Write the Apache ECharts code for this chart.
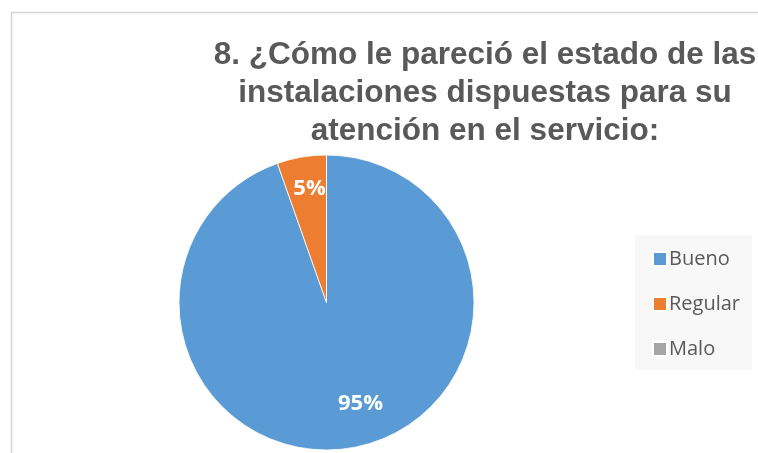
<!DOCTYPE html>
<html><head><meta charset="utf-8">
<script src="https://cdn.jsdelivr.net/npm/echarts@6/dist/echarts.min.js"></script>
<style>html,body{margin:0;padding:0;background:#fff}#c{width:758px;height:453px}</style>
</head><body><div id="c"></div>
<script>
const titleText = "8. ¿Cómo le pareció el estado de las\ninstalaciones dispuestas para su\natención en el servicio:";
const categories = ["Bueno", "Regular", "Malo"];
const values = [94.6, 5.4, 0];
const colors = ["#5b9bd5", "#ed7d31", "#a5a5a5"];
const labelShift = [[21, 26], [-4, -38], [0, 0]];

const chart = echarts.init(document.getElementById('c'), null, {renderer: 'canvas'});
chart.setOption({
  animation: false,
  backgroundColor: '#fff',
  graphic: [
    {type: 'rect', left: 9, top: 10, shape: {width: 800, height: 500},
     style: {fill: 'none', stroke: '#d4d4d4', lineWidth: 1.5}, silent: true},
    {type: 'rect', left: 635, top: 235, shape: {width: 117, height: 135},
     style: {fill: '#f8f8f8'}, silent: true, z: -1}
  ],
  title: {
    text: titleText,
    left: 480, top: 31, textAlign: 'center',
    textStyle: {fontFamily: 'Liberation Sans, Arial', fontWeight: 'bold', fontSize: 31.5,
      color: '#595959', lineHeight: 38}
  },
  legend: {
    orient: 'vertical', left: 647, top: 244,
    itemWidth: 14, itemHeight: 14, itemGap: 25,
    icon: 'rect',
    data: categories,
    textStyle: {fontFamily: 'Open Sans', fontSize: 20, color: '#595959', padding: [0,0,0,-3]}
  },
  series: [{
    type: 'pie',
    center: [326.5, 302.5], radius: 147.5,
    startAngle: 90, clockwise: true,
    data: categories.map((c, i) => ({name: c, value: values[i], itemStyle: {color: colors[i]}})),
    itemStyle: {borderColor: '#fff', borderWidth: 0.8},
    label: {
      show: true, position: 'inside',
      formatter: p => p.value > 0 ? Math.round(p.value) + '%' : '',
      fontFamily: 'Open Sans', fontWeight: 'bold', fontSize: 22, color: '#fff'
    },
    labelLayout: p => ({dx: labelShift[p.dataIndex][0], dy: labelShift[p.dataIndex][1]}),
    labelLine: {show: false},
    emphasis: {disabled: true}
  }]
});
</script></body></html>
